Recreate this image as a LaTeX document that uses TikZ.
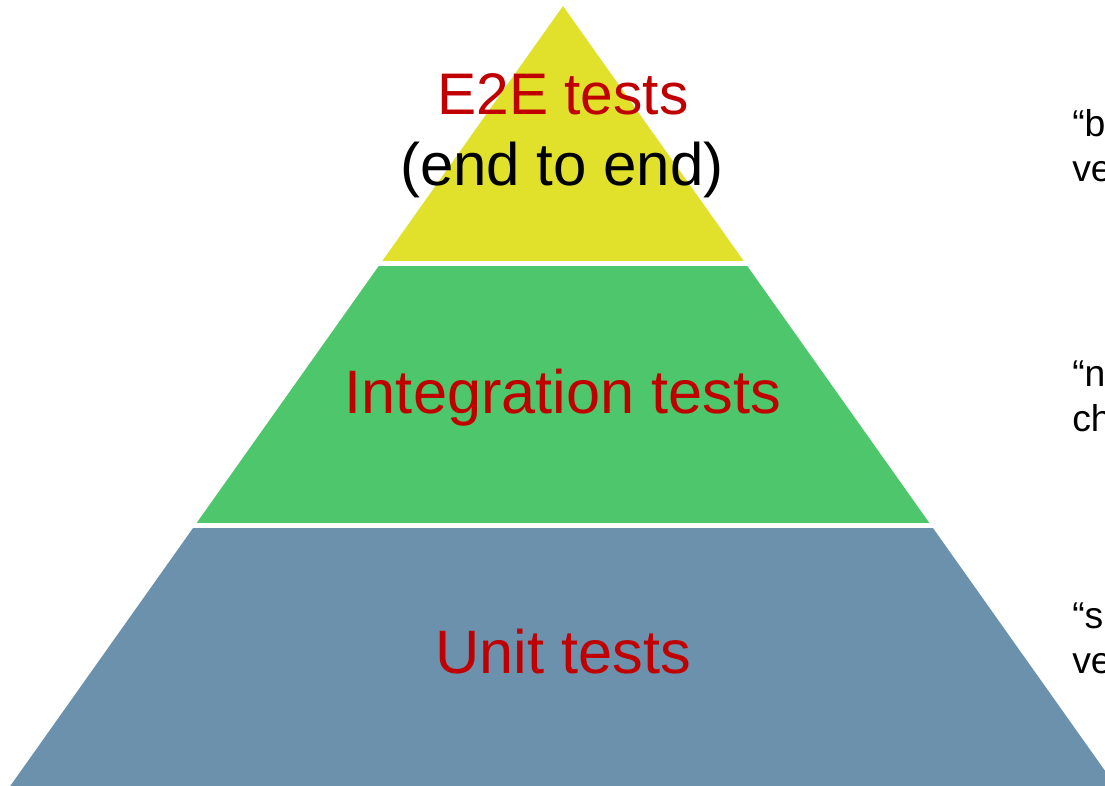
\documentclass[tikz,border=0pt]{standalone}
\usepackage{fontspec}
\setmainfont{Liberation Sans}
\definecolor{layerTop}{RGB}{225,225,43}
\definecolor{layerMid}{RGB}{78,198,107}
\definecolor{layerBase}{RGB}{107,145,173}
\definecolor{labelRed}{RGB}{192,0,0}
\tikzset{
  layername/.style={inner sep=0pt, anchor=base, text=labelRed},
  % multi-line note: its base anchor sits on the baseline of the last line
  sidenote/.style={inner sep=0pt, anchor=base west, align=left,
    font=\fontsize{28}{33.5}\selectfont},
}
% the whole pyramid outline, cut into three horizontal bands
\newcommand{\pyramidpath}{(563,6) -- (7.4,790) -- (1118.6,790) -- cycle}
\begin{document}
\begin{tikzpicture}[x=0.75pt, y=-0.75pt]
  \useasboundingbox (0,0) rectangle (1105,785);
  \fill[white] (0,0) rectangle (1105,785);

  % top band: end-to-end tests
  \begin{scope}
    \clip (0,0) rectangle (1105,260);
    \fill[layerTop] \pyramidpath;
  \end{scope}
  % middle band: integration tests
  \begin{scope}
    \clip (0,266) rectangle (1105,522);
    \fill[layerMid] \pyramidpath;
  \end{scope}
  % bottom band: unit tests
  \begin{scope}
    \clip (0,528) rectangle (1105,790);
    \fill[layerBase] \pyramidpath;
  \end{scope}

  % band labels
  \node[layername, font=\fontsize{44}{50}\selectfont] (e2e) at (563,114) {E2E tests};
  \node[layername, text=black, font=\fontsize{45}{52}\selectfont] (e2esub) at (562,185) {(end to end)};
  \node[layername, font=\fontsize{46}{54}\selectfont] (integ) at (563,413) {Integration tests};
  \node[layername, font=\fontsize{46}{54}\selectfont] (unit) at (563,673) {Unit tests};

  % side notes, running off the right edge
  \node[sidenote] (noteTop) at (1072,181) {“b\\ve};
  \node[sidenote] (noteMid) at (1072,431) {“n\\ch};
  \node[sidenote] (noteBase) at (1072,673) {“s\\ve};
\end{tikzpicture}
\end{document}
